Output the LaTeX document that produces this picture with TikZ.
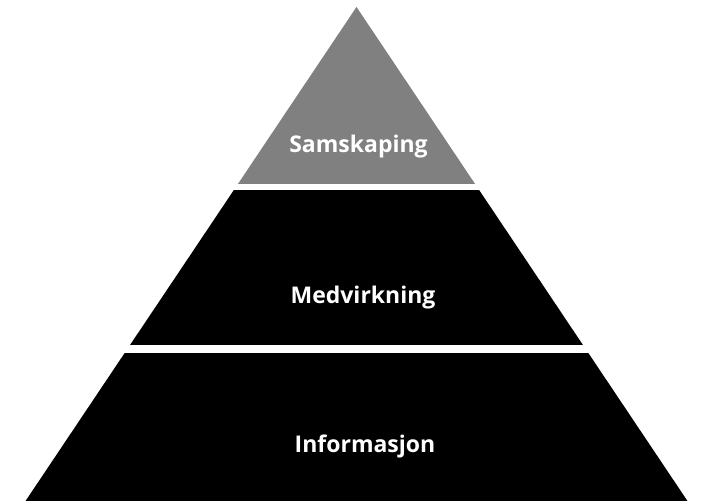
\documentclass[tikz,border=0pt]{standalone}
\usepackage{fontspec}
\setmainfont{Open Sans}
\begin{document}
\begin{tikzpicture}[x=1bp,y=-1bp,
  lbl/.style={text=white,font=\fontsize{23bp}{28bp}\selectfont\bfseries,anchor=base,inner sep=0pt}]
\useasboundingbox (0,0) rectangle (705,501);
\fill[white] (0,0) rectangle (705,501);
\definecolor{tiergray}{RGB}{128,128,128}
\begin{scope}
\clip (356.5,7) -- (356.5-0.67*494,501) -- (356.5+0.67*494,501) -- cycle;
\fill[tiergray] (0,0) rectangle (705,184);
\fill[black] (0,190) rectangle (705,345);
\fill[black] (0,353) rectangle (705,501);
\end{scope}
\node[lbl] (sam) at (358.5,153) {Samskaping};
\node[lbl] (med) at (363,303) {Medvirkning};
\node[lbl] (inf) at (365,452.5) {Informasjon};
\end{tikzpicture}
\end{document}
